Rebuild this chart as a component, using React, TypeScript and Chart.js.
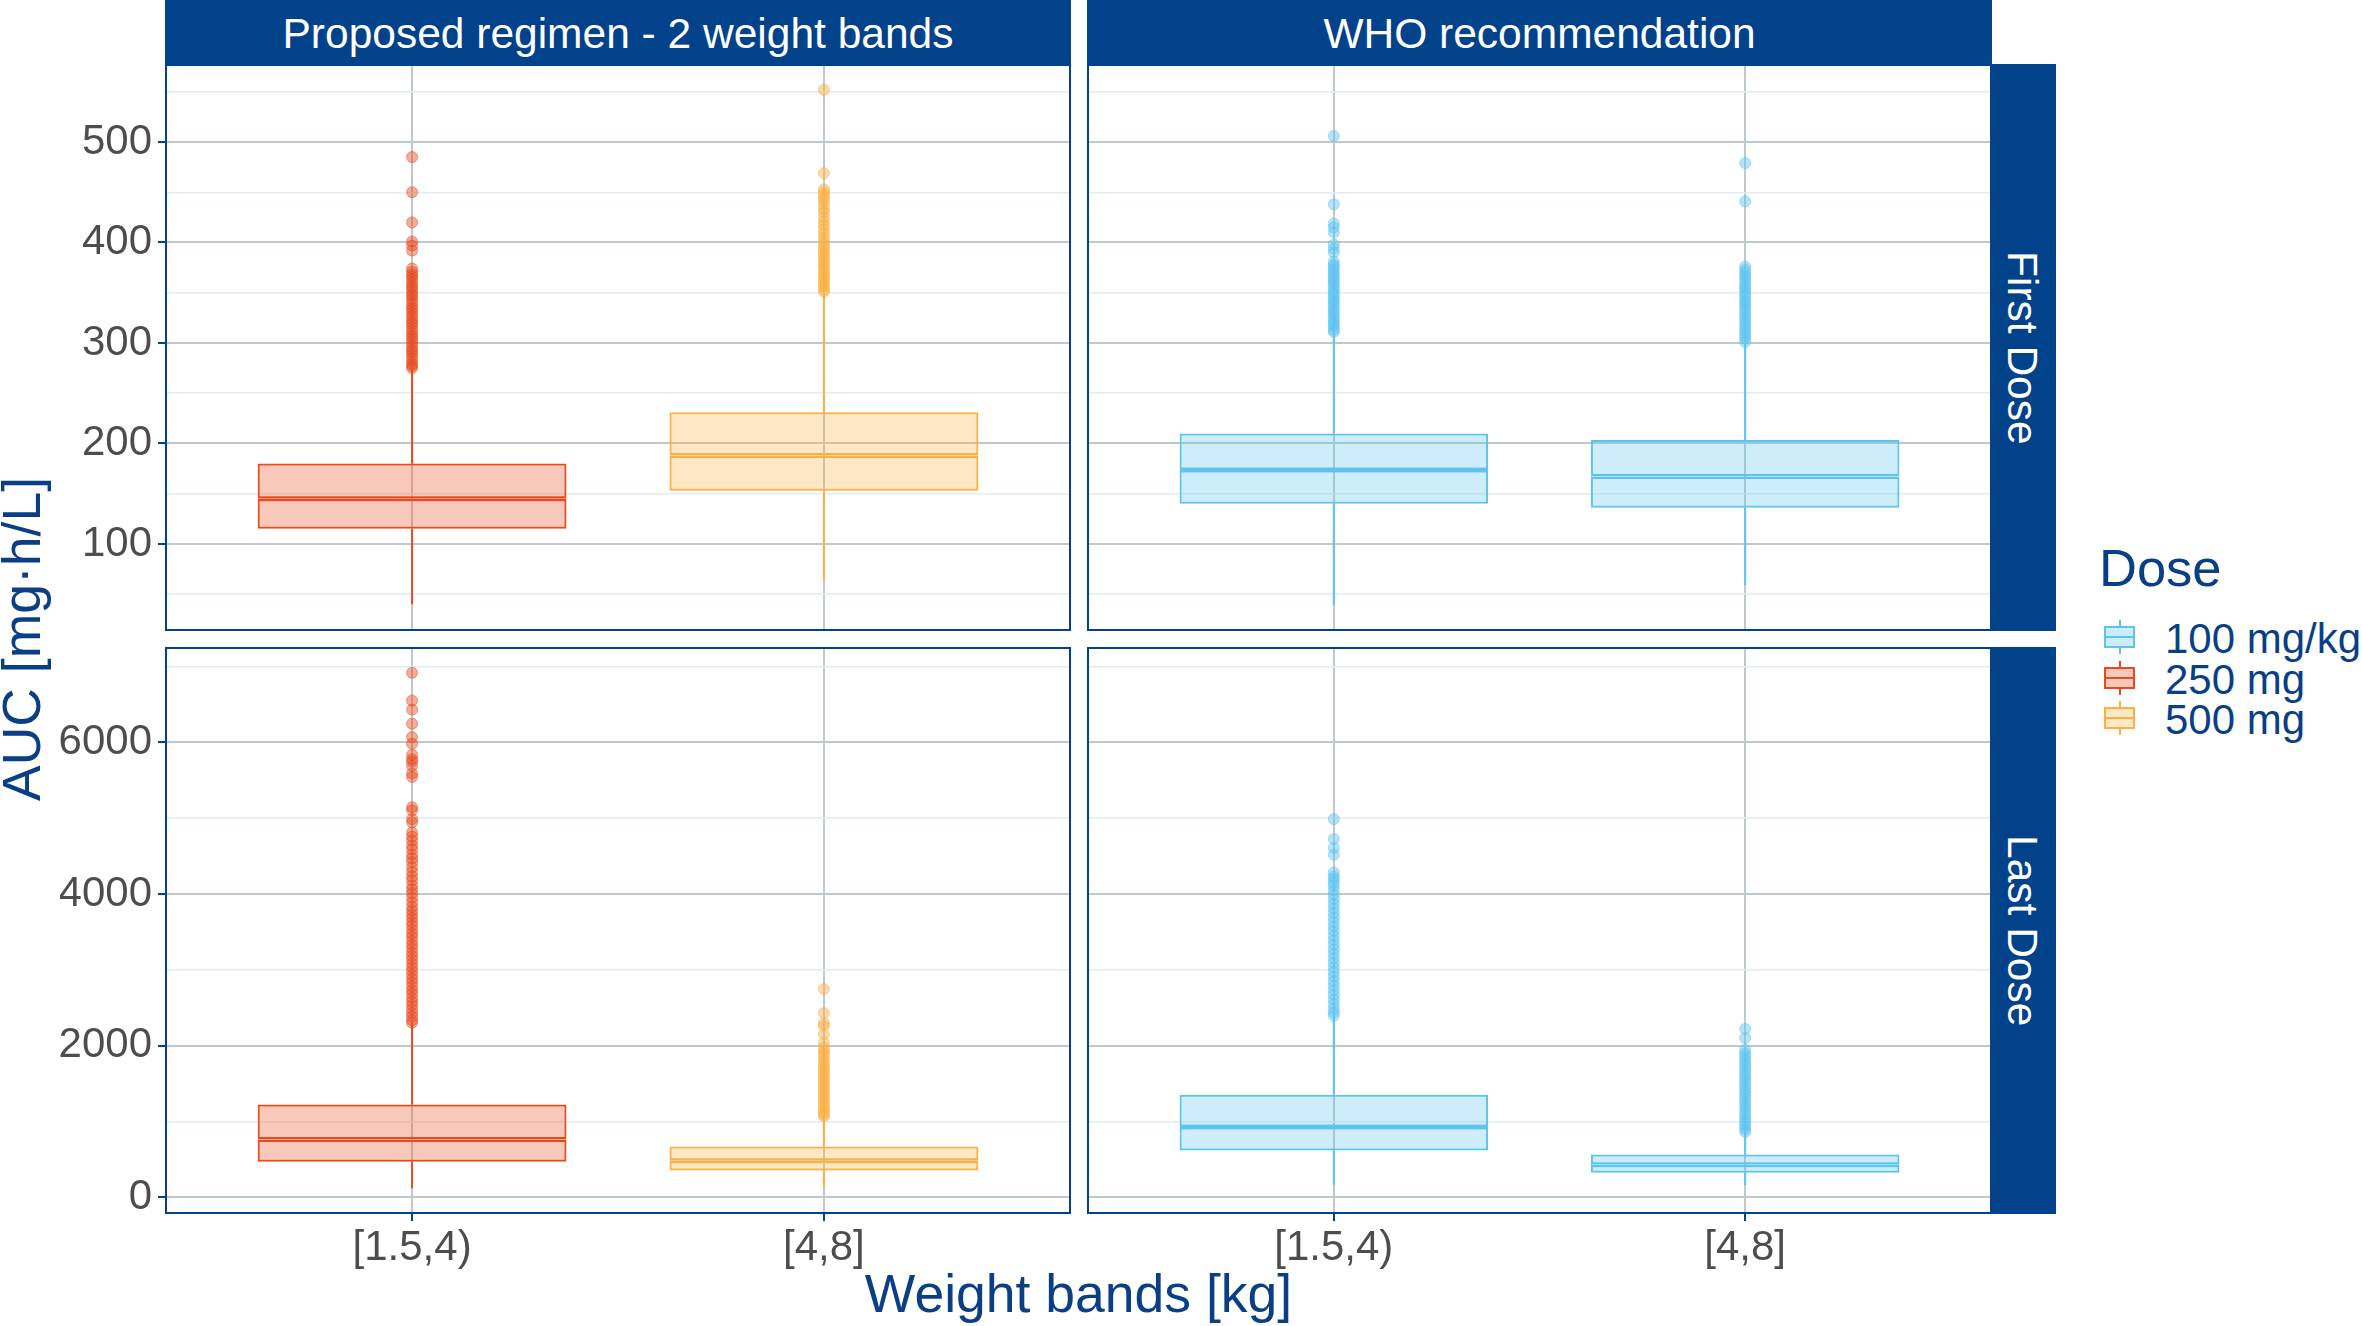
import React, { useEffect, useRef } from 'react';
import { Chart, registerables } from 'chart.js';

Chart.register(...registerables);

// ---------- data ----------
const CATEGORIES = ['[1.5,4)', '[4,8]'];
const COLUMNS = ['Proposed regimen - 2 weight bands', 'WHO recommendation'];
const ROWS = ['First Dose', 'Last Dose'];
const DOSES = ['100 mg/kg', '250 mg', '500 mg'];

// box statistics: [lower whisker, Q1, median, Q3, upper whisker]
const PROP_FIRST_LOW = [40, 115, 145, 180, 274];
const PROP_FIRST_HIGH = [64, 153, 188, 231, 350];
const WHO_FIRST_LOW = [39, 140, 173.5, 210, 310];
const WHO_FIRST_HIGH = [59, 136, 167, 203.5, 300];
const PROP_LAST_LOW = [117, 468, 761, 1223, 2295];
const PROP_LAST_HIGH = [129, 351, 480, 667, 1065];
const WHO_LAST_LOW = [158, 615, 925, 1352, 2394];
const WHO_LAST_HIGH = [158, 322, 427, 562, 860];

// outliers
const PROP_FIRST_LOW_OUT = [485, 450, 420, 401, 397, 392, 374, 371, 368, 366, 363, 360, 357, 355, 352, 349, 347, 344, 341, 338, 335, 333, 330, 327, 324, 321, 319, 316, 313, 310, 307, 305, 302, 299, 296, 293, 291, 288, 285, 282, 279, 277, 275];
const PROP_FIRST_HIGH_OUT = [552, 469, 453, 450, 447, 444, 441, 437, 433, 430, 425, 421, 417, 413, 409, 405, 401, 398, 395, 392, 389, 386, 383, 380, 378, 375, 372, 369, 366, 364, 361, 358, 356, 353, 351];
const WHO_FIRST_LOW_OUT = [506, 438, 419, 415, 410, 398, 394, 390, 381, 378, 376, 373, 370, 368, 365, 362, 360, 357, 354, 351, 349, 346, 343, 341, 338, 335, 332, 330, 327, 324, 321, 319, 316, 313, 311];
const WHO_FIRST_HIGH_OUT = [479, 441, 376, 373, 370, 367, 365, 362, 359, 356, 354, 351, 348, 345, 342, 340, 337, 334, 331, 328, 325, 322, 319, 316, 313, 310, 307, 304, 301];
const PROP_LAST_LOW_OUT = [6919, 6550, 6433, 6246, 6070, 5983, 5836, 5778, 5750, 5690, 5590, 5544, 5146, 5105, 4988, 4946, 4812, 4760, 4705, 4640, 4590, 4520, 4470, 4420, 4350, 4290, 4230, 4180, 4110, 4060, 4010, 3950, 3890, 3830, 3780, 3730, 3685, 3630, 3585, 3530, 3480, 3435, 3380, 3330, 3285, 3230, 3180, 3135, 3080, 3030, 2985, 2930, 2880, 2835, 2780, 2730, 2685, 2630, 2580, 2535, 2480, 2430, 2385, 2335, 2300];
const PROP_LAST_HIGH_OUT = [2745, 2429, 2295, 2260, 2148, 2040, 1973, 1930, 1890, 1850, 1800, 1760, 1720, 1680, 1640, 1600, 1560, 1520, 1480, 1440, 1400, 1360, 1320, 1280, 1240, 1200, 1160, 1120, 1090, 1065];
const WHO_LAST_LOW_OUT = [4988, 4724, 4607, 4519, 4285, 4230, 4197, 4150, 4110, 4050, 3990, 3930, 3870, 3810, 3750, 3690, 3630, 3570, 3510, 3450, 3390, 3330, 3270, 3210, 3150, 3090, 3030, 2970, 2910, 2850, 2790, 2730, 2670, 2610, 2550, 2490, 2440, 2394];
const WHO_LAST_HIGH_OUT = [2219, 2101, 1943, 1900, 1860, 1815, 1770, 1730, 1690, 1645, 1600, 1560, 1520, 1475, 1430, 1390, 1350, 1305, 1260, 1220, 1180, 1135, 1090, 1050, 1010, 970, 930, 895, 860];

// tick values
const FIRST_MAJOR_TICKS = [100, 200, 300, 400, 500];
const FIRST_MINOR_TICKS = [50, 150, 250, 350, 450, 550];
const LAST_MAJOR_TICKS = [0, 2000, 4000, 6000];
const LAST_MINOR_TICKS = [1000, 3000, 5000, 7000];

// ---------- styles ----------
const NAVY = '#02428A';
const TEXT_NAVY = '#0A3F86';
const TICK_TEXT = '#4D4D4D';
const GRID_MAJOR = '#BFC9CB';
const GRID_MINOR = '#E2EDEF';
const FONT = '"Liberation Sans", Arial, Helvetica, sans-serif';
const DOSE_RGB: Record<string, number[]> = {
  '100 mg/kg': [91, 196, 241],
  '250 mg': [232, 74, 30],
  '500 mg': [251, 176, 64],
};
const rgba = (dose: string, a: number) => {
  const c = DOSE_RGB[dose];
  return `rgba(${c[0]},${c[1]},${c[2]},${a})`;
};

const PANELS = [
  { row: 0, col: 0, groups: [
    { cat: 1, dose: '250 mg', stats: PROP_FIRST_LOW, out: PROP_FIRST_LOW_OUT },
    { cat: 2, dose: '500 mg', stats: PROP_FIRST_HIGH, out: PROP_FIRST_HIGH_OUT },
  ] },
  { row: 0, col: 1, groups: [
    { cat: 1, dose: '100 mg/kg', stats: WHO_FIRST_LOW, out: WHO_FIRST_LOW_OUT },
    { cat: 2, dose: '100 mg/kg', stats: WHO_FIRST_HIGH, out: WHO_FIRST_HIGH_OUT },
  ] },
  { row: 1, col: 0, groups: [
    { cat: 1, dose: '250 mg', stats: PROP_LAST_LOW, out: PROP_LAST_LOW_OUT },
    { cat: 2, dose: '500 mg', stats: PROP_LAST_HIGH, out: PROP_LAST_HIGH_OUT },
  ] },
  { row: 1, col: 1, groups: [
    { cat: 1, dose: '100 mg/kg', stats: WHO_LAST_LOW, out: WHO_LAST_LOW_OUT },
    { cat: 2, dose: '100 mg/kg', stats: WHO_LAST_HIGH, out: WHO_LAST_HIGH_OUT },
  ] },
];
const ROW_TICKS = [
  { major: FIRST_MAJOR_TICKS, minor: FIRST_MINOR_TICKS },
  { major: LAST_MAJOR_TICKS, minor: LAST_MINOR_TICKS },
];

// ---------- layout ----------
const PLOT_LEFT = [165, 1087];
const PLOT_WIDTH = [906, 905];
const PLOT_TOP = [64, 647];
const PLOT_HEIGHT = 567;
const Y_AXIS_W = 105;
const X_AXIS_H = 55;
const STRIP = 64;

function rowRange(row: number) {
  const vals = PANELS.filter((p) => p.row === row).flatMap((p) => p.groups.flatMap((g) => [...g.stats, ...g.out]));
  const lo = Math.min(...vals);
  const hi = Math.max(...vals);
  const pad = (hi - lo) * 0.05;
  return [lo - pad, hi + pad];
}

const borderPlugin = {
  id: 'panelBorder',
  afterDraw(chart: any) {
    const { ctx, chartArea } = chart;
    ctx.save();
    ctx.strokeStyle = NAVY;
    ctx.lineWidth = 2;
    ctx.strokeRect(chartArea.left + 1, chartArea.top + 1, chartArea.right - chartArea.left - 2, chartArea.bottom - chartArea.top - 2);
    ctx.restore();
  },
};

function buildChart(canvas: HTMLCanvasElement, panel: any) {
  const { row, col, groups } = panel;
  const [ymin, ymax] = rowRange(row);
  const ticks = ROW_TICKS[row];
  const allTicks = [...ticks.major, ...ticks.minor].filter((v) => v >= ymin && v <= ymax).sort((a, b) => a - b);
  const isMajor = (v: number) => ticks.major.includes(v);

  const datasets: any[] = [];
  // box lower half and upper half (the shared edge forms the fat median line)
  datasets.push({
    type: 'bar',
    order: 2,
    grouped: false,
    data: groups.map((g: any) => ({ x: g.cat, y: [g.stats[1], g.stats[2]] })),
    backgroundColor: groups.map((g: any) => rgba(g.dose, 0.3)),
    borderColor: groups.map((g: any) => rgba(g.dose, 1)),
    borderWidth: { top: 2.5, bottom: 2, left: 2, right: 2 },
    borderSkipped: false,
    categoryPercentage: 0.75,
    barPercentage: 1,
  });
  datasets.push({
    type: 'bar',
    order: 2,
    grouped: false,
    data: groups.map((g: any) => ({ x: g.cat, y: [g.stats[2], g.stats[3]] })),
    backgroundColor: groups.map((g: any) => rgba(g.dose, 0.3)),
    borderColor: groups.map((g: any) => rgba(g.dose, 1)),
    borderWidth: { top: 2, bottom: 2.5, left: 2, right: 2 },
    borderSkipped: false,
    categoryPercentage: 0.75,
    barPercentage: 1,
  });
  groups.forEach((g: any) => {
    // whiskers
    datasets.push({
      type: 'line', order: 3,
      data: [{ x: g.cat, y: g.stats[0] }, { x: g.cat, y: g.stats[1] }],
      borderColor: rgba(g.dose, 1), borderWidth: 2, pointRadius: 0, fill: false,
    });
    datasets.push({
      type: 'line', order: 3,
      data: [{ x: g.cat, y: g.stats[3] }, { x: g.cat, y: g.stats[4] }],
      borderColor: rgba(g.dose, 1), borderWidth: 2, pointRadius: 0, fill: false,
    });
    // outliers
    datasets.push({
      type: 'line', order: 1, showLine: false,
      data: g.out.map((v: number) => ({ x: g.cat, y: v })),
      pointRadius: 5.5,
      pointBackgroundColor: rgba(g.dose, 0.45),
      pointBorderColor: rgba(g.dose, 0.5),
      pointBorderWidth: 1,
    });
  });

  const tickFont = { family: FONT, size: 42 };

  return new Chart(canvas, {
    type: 'bar',
    data: { datasets },
    plugins: [borderPlugin],
    options: {
      responsive: false,
      maintainAspectRatio: false,
      animation: false,
      events: [],
      layout: { padding: 0, autoPadding: false },
      plugins: { legend: { display: false }, tooltip: { enabled: false } },
      scales: {
        x: {
          type: 'linear',
          min: 0.4,
          max: 2.6,
          offset: false,
          afterBuildTicks: (s: any) => { s.ticks = CATEGORIES.map((_, i) => ({ value: i + 1 })); },
          afterFit: (s: any) => { s.height = row === 1 ? X_AXIS_H : 0; s.paddingLeft = 0; s.paddingRight = 0; },
          grid: { offset: false, color: GRID_MAJOR, lineWidth: 2, drawTicks: row === 1, tickLength: 7, tickColor: NAVY, tickWidth: 2 },
          border: { display: false },
          ticks: {
            display: row === 1,
            autoSkip: false,
            maxRotation: 0,
            padding: 2,
            font: tickFont,
            color: TICK_TEXT,
            callback: (v: any) => CATEGORIES[Math.round(v) - 1] ?? '',
          },
        },
        y: {
          type: 'linear',
          min: ymin,
          max: ymax,
          afterBuildTicks: (s: any) => { s.ticks = allTicks.map((v) => ({ value: v })); },
          afterFit: (s: any) => { s.width = col === 0 ? Y_AXIS_W : 0; s.paddingTop = 0; s.paddingBottom = 0; },
          grid: {
            color: (c: any) => (isMajor(c.tick?.value) ? GRID_MAJOR : GRID_MINOR),
            lineWidth: (c: any) => (isMajor(c.tick?.value) ? 2 : 1.5),
            drawTicks: col === 0,
            tickLength: 7,
            tickWidth: 2,
            tickColor: (c: any) => (isMajor(c.tick?.value) ? NAVY : 'rgba(0,0,0,0)'),
          },
          border: { display: false },
          ticks: {
            display: col === 0,
            autoSkip: false,
            padding: 6,
            font: tickFont,
            color: TICK_TEXT,
            callback: (v: any) => (isMajor(v) ? String(v) : ''),
          },
        },
      },
    } as any,
  });
}

function canvasBox(row: number, col: number) {
  const left = col === 0 ? PLOT_LEFT[col] - Y_AXIS_W : PLOT_LEFT[col];
  const width = PLOT_WIDTH[col] + (col === 0 ? Y_AXIS_W : 0);
  const top = PLOT_TOP[row];
  const height = PLOT_HEIGHT + (row === 1 ? X_AXIS_H : 0);
  return { left, top, width, height };
}

export default function App() {
  const refs = useRef<(HTMLCanvasElement | null)[]>([]);

  useEffect(() => {
    const charts = PANELS.map((p, i) => buildChart(refs.current[i] as HTMLCanvasElement, p));
    return () => charts.forEach((c) => c.destroy());
  }, []);

  const abs = (s: any) => ({ position: 'absolute', ...s }) as React.CSSProperties;

  return (
    <div style={abs({ left: 0, top: 0, width: 2362, height: 1326, background: '#fff', fontFamily: FONT, overflow: 'hidden' })}>
      {PANELS.map((p, i) => {
        const b = canvasBox(p.row, p.col);
        return (
          <canvas
            key={i}
            ref={(el) => { refs.current[i] = el; }}
            width={b.width}
            height={b.height}
            style={abs({ left: b.left, top: b.top, width: b.width, height: b.height })}
          />
        );
      })}

      {COLUMNS.map((c, i) => (
        <div key={c} style={abs({ left: PLOT_LEFT[i], top: 0, width: PLOT_WIDTH[i], height: STRIP, background: NAVY, color: '#fff', fontSize: 42.5, lineHeight: '68px', textAlign: 'center', whiteSpace: 'nowrap' })}>
          {c}
        </div>
      ))}

      {ROWS.map((r, i) => (
        <div key={r} style={abs({ left: PLOT_LEFT[1] + PLOT_WIDTH[1], top: PLOT_TOP[i], width: STRIP, height: PLOT_HEIGHT, background: NAVY, color: '#fff', display: 'flex', alignItems: 'center', justifyContent: 'center' })}>
          <span style={{ writingMode: 'vertical-rl', fontSize: 42.5, lineHeight: '42px', whiteSpace: 'nowrap', marginRight: 4 }}>{r}</span>
        </div>
      ))}

      <div style={abs({ left: 22, top: 639, width: 0, height: 0 })}>
        <div style={abs({ left: 0, top: 0, transform: 'translate(-50%,-50%) rotate(-90deg)', fontSize: 53.5, lineHeight: '54px', color: TEXT_NAVY, whiteSpace: 'nowrap' })}>
          AUC [mg·h/L]
        </div>
      </div>

      <div style={abs({ left: PLOT_LEFT[0], top: 1294 - 27, width: PLOT_LEFT[1] + PLOT_WIDTH[1] - PLOT_LEFT[0], fontSize: 53.5, lineHeight: '54px', color: TEXT_NAVY, textAlign: 'center', whiteSpace: 'nowrap' })}>
        Weight bands [kg]
      </div>

      <div style={abs({ left: 2099, top: 568 - 26, fontSize: 52.5, lineHeight: '52px', color: TEXT_NAVY, whiteSpace: 'nowrap' })}>Dose</div>
      {DOSES.map((d, i) => {
        const cy = 637 + i * 40.5;
        return (
          <React.Fragment key={d}>
            <div style={abs({ left: 2104, top: cy - 17, width: 31, height: 34 })}>
              <div style={abs({ left: 14.5, top: 0, width: 2, height: 34, background: rgba(d, 1) })} />
              <div style={abs({ left: 0, top: 6, width: 31, height: 22, boxSizing: 'border-box', border: `2px solid ${rgba(d, 1)}`, background: `linear-gradient(${rgba(d, 0.3)}, ${rgba(d, 0.3)}), #fff` })} />
              <div style={abs({ left: 0, top: 16, width: 31, height: 2, background: rgba(d, 1) })} />
            </div>
            <div style={abs({ left: 2165, top: cy + 2 - 21, fontSize: 42, lineHeight: '42px', color: TEXT_NAVY, whiteSpace: 'nowrap' })}>{d}</div>
          </React.Fragment>
        );
      })}
    </div>
  );
}
